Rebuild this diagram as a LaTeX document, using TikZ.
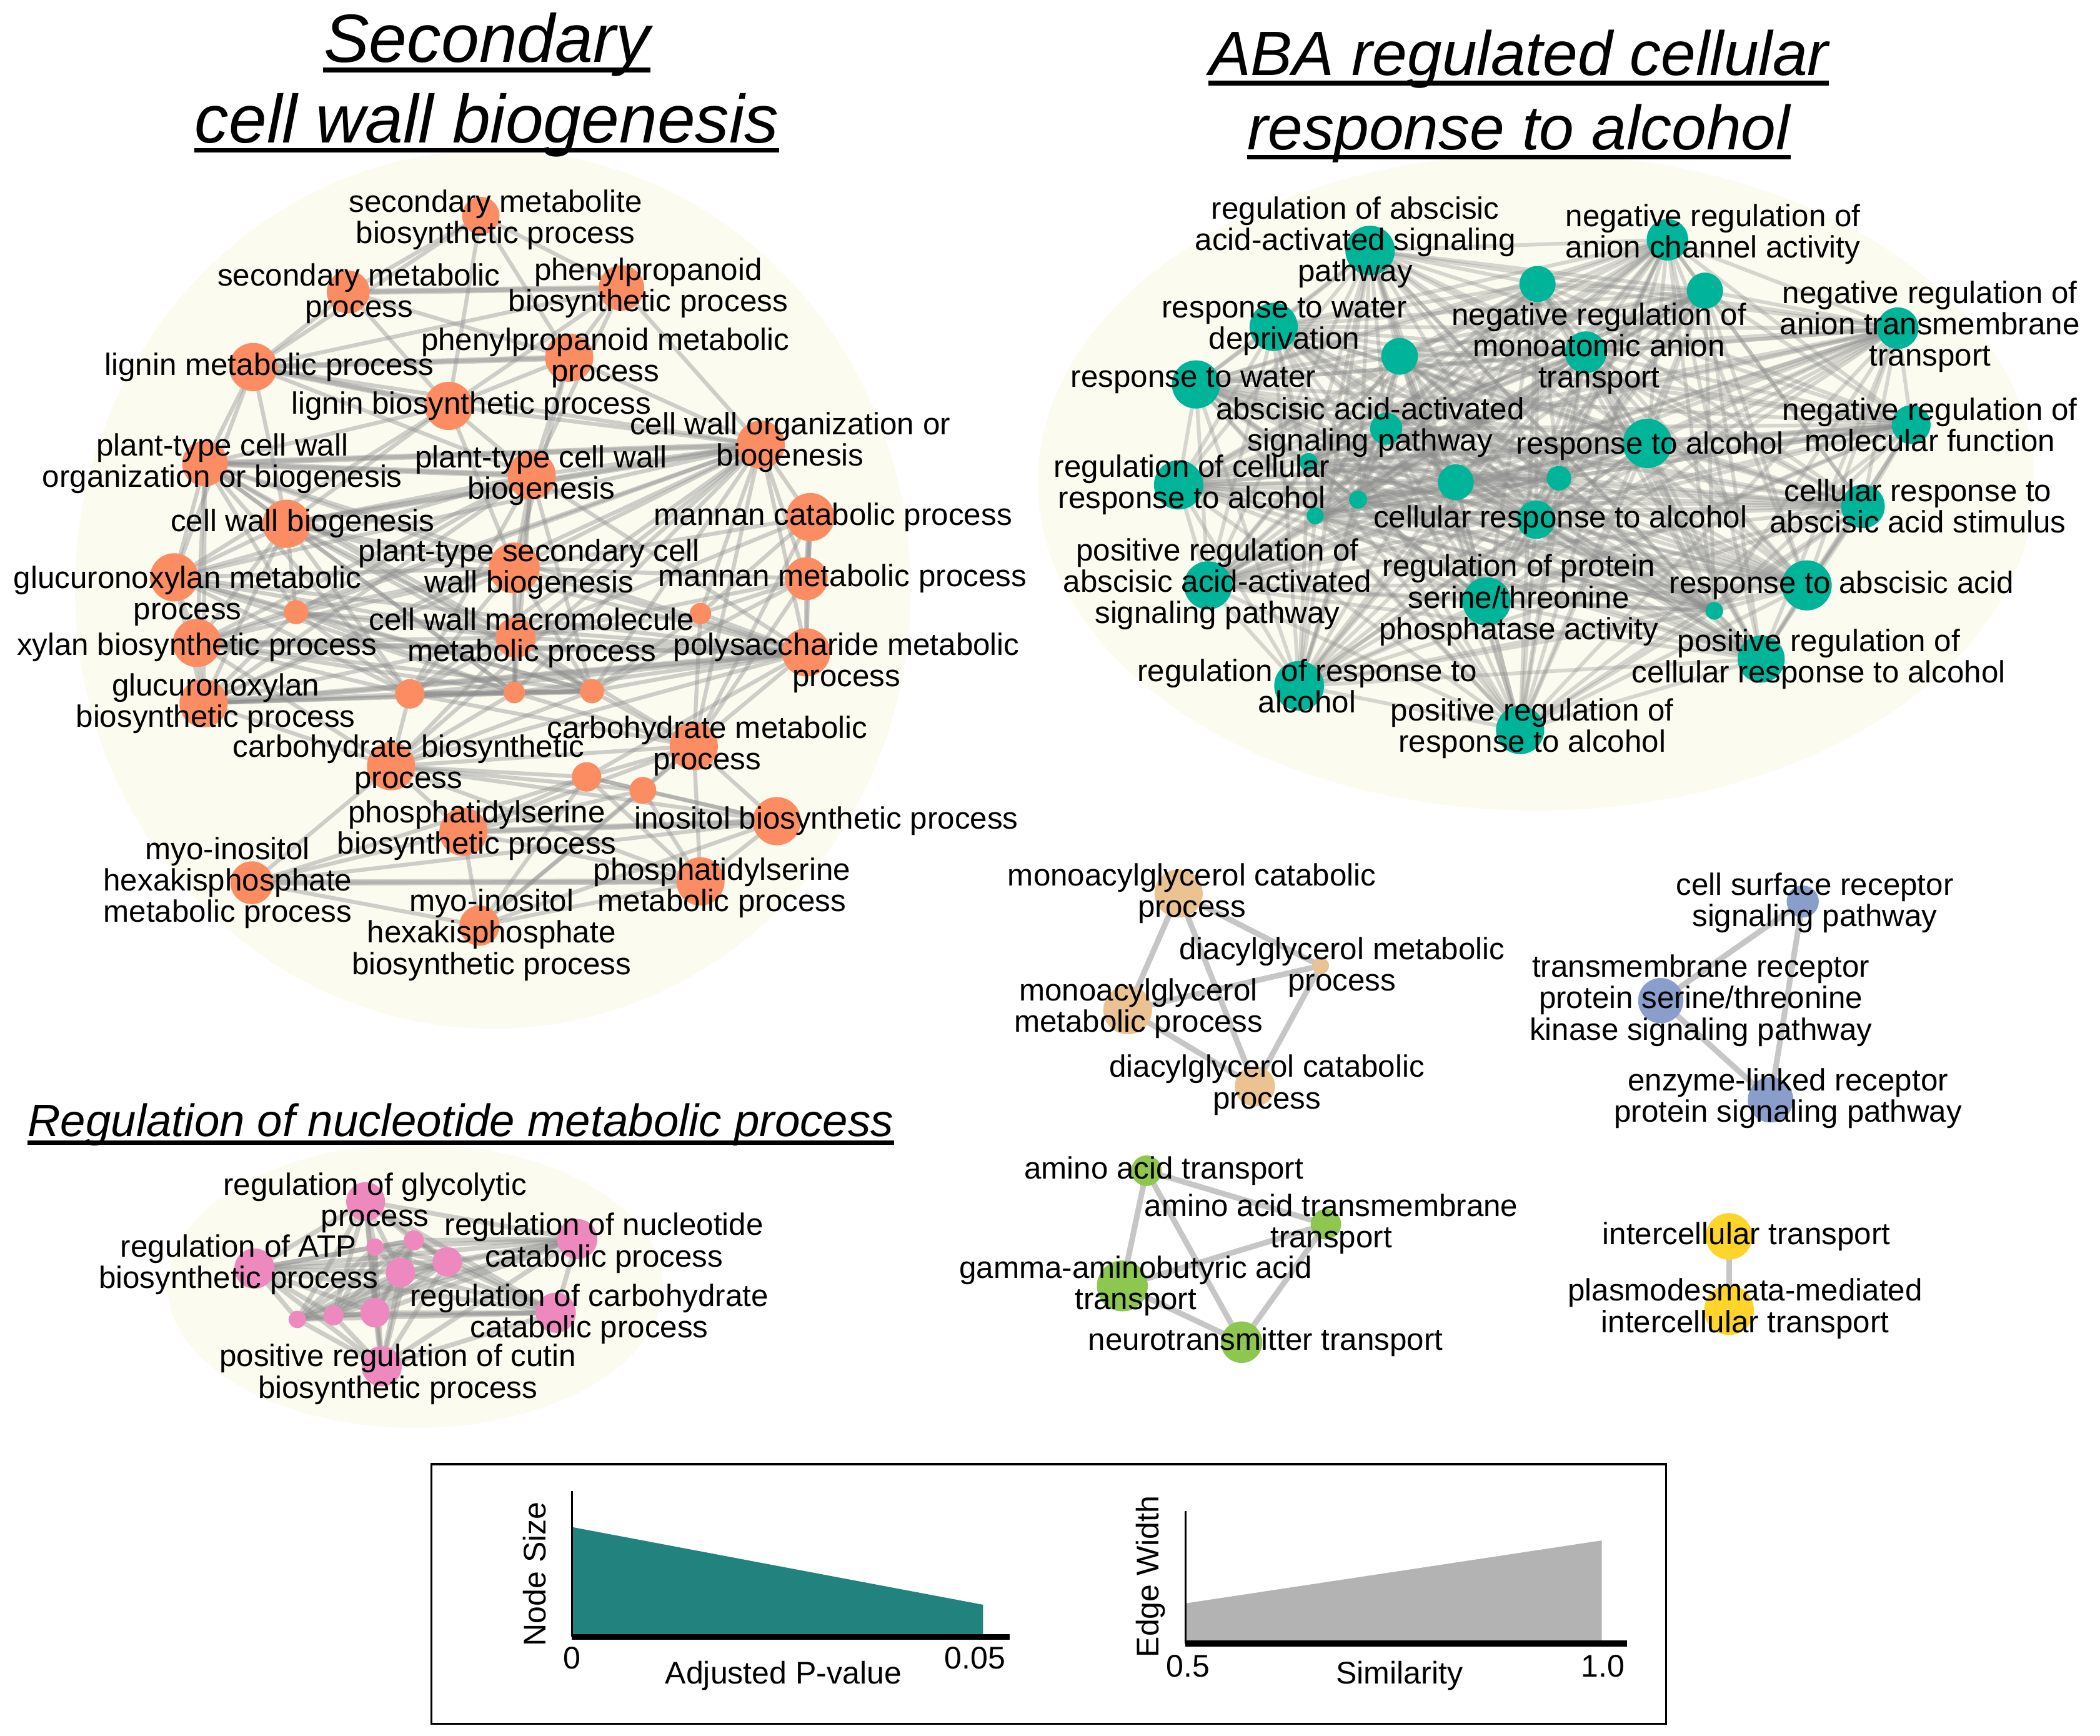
\documentclass[tikz,border=0pt]{standalone}
\usepackage{fontspec}
\setmainfont{Liberation Sans}
\usepackage{xcolor}

\definecolor{cwall}{HTML}{FC8D62}
\definecolor{abac}{RGB}{0,180,154}
\definecolor{nucc}{HTML}{ED89BF}
\definecolor{lipc}{HTML}{EBC393}
\definecolor{aminc}{HTML}{8DC74F}
\definecolor{recc}{HTML}{8A9ECB}
\definecolor{intc}{HTML}{FFD52B}
\definecolor{hullc}{RGB}{251,251,240}
\definecolor{sizec}{RGB}{34,130,126}
\definecolor{widc}{RGB}{179,179,179}

\pgfdeclarelayer{hulls}
\pgfdeclarelayer{links}
\pgfsetlayers{hulls,links,main}

\begin{document}
\begin{tikzpicture}[x=0.02cm, y=-0.02cm,
	term/.style={circle, inner sep=0pt, minimum size=#1*0.04cm},
	lbl/.style={font=\fontsize{13.1}{13.3}\selectfont, align=center, inner sep=0pt},
	link/.style={draw=black!45, line width=1.7pt, opacity=0.4, line cap=round},
	linkw/.style={draw=black!50, line width=2.4pt, opacity=0.45, line cap=round},
	hull/.style={fill=hullc},
	ttlA/.style={font=\fontsize{29}{33}\selectfont\itshape, inner sep=0pt, anchor=base},
	ttlB/.style={font=\fontsize{26.6}{30}\selectfont\itshape, inner sep=0pt, anchor=base},
	ttlC/.style={font=\fontsize{19.3}{22}\selectfont\itshape, inner sep=0pt, anchor=base},
	uline/.style={line width=2pt},
	legt/.style={font=\fontsize{13.3}{14}\selectfont, inner sep=0pt},
	axthin/.style={line width=0.8pt},
	axthick/.style={line width=2.6pt}]
	\useasboundingbox (0,0) rectangle (1568,1296);

	% background hulls
	\begin{pgfonlayer}{hulls}
		\fill[hull] (368,440) ellipse [x radius=312, y radius=328];
		\fill[hull] (1147,360) ellipse [x radius=372, y radius=245];
		\fill[hull] (310,960) ellipse [x radius=185, y radius=106];
	\end{pgfonlayer}

	% titles
	\node[ttlA] (secA) at (363.5,46.4) {Secondary};
	\node[ttlA] (secB) at (363.5,106.4) {cell wall biogenesis};
	\node[ttlB] (abaA) at (1134,56.4) {ABA regulated cellular};
	\node[ttlB] (abaB) at (1134,111.6) {response to alcohol};
	\node[ttlC] (nucA) at (344,848.5) {Regulation of nucleotide metabolic process};
	\draw[uline] ([yshift=-3.3pt]secA.base west) -- ([yshift=-3.3pt]secA.base east);
	\draw[uline] ([yshift=-3.3pt]secB.base west) -- ([yshift=-3.3pt]secB.base east);
	\draw[uline] ([yshift=-3.2pt]abaA.base west) -- ([yshift=-3.2pt]abaA.base east);
	\draw[uline] ([yshift=-3.2pt]abaB.base west) -- ([yshift=-3.2pt]abaB.base east);
	\draw[uline, line width=1.7pt] ([yshift=-2.6pt]nucA.base west) -- ([yshift=-2.6pt]nucA.base east);

	% secondary cell wall cluster
	\node[term=14, fill=cwall] (smb) at (359,161) {};
	\node[term=16, fill=cwall] (smp) at (260,218) {};
	\node[term=17, fill=cwall] (ppb) at (464,215) {};
	\node[term=18, fill=cwall] (ppm) at (425,267) {};
	\node[term=18, fill=cwall] (lmp) at (189,274) {};
	\node[term=18, fill=cwall] (lbp) at (335,303) {};
	\node[term=18, fill=cwall] (cwo) at (568,332) {};
	\node[term=17, fill=cwall] (ptcw) at (153,346) {};
	\node[term=18, fill=cwall] (ptb) at (397,355) {};
	\node[term=18, fill=cwall] (cwb) at (214,391) {};
	\node[term=18, fill=cwall] (mcp) at (605,386) {};
	\node[term=19, fill=cwall] (pscw) at (384,424) {};
	\node[term=16, fill=cwall] (mmp) at (602,432) {};
	\node[term=18, fill=cwall] (gxm) at (130,431) {};
	\node[term=9, fill=cwall] (sa) at (221,457) {};
	\node[term=8, fill=cwall] (sb) at (523,458) {};
	\node[term=15, fill=cwall] (cwm) at (385,476) {};
	\node[term=18, fill=cwall] (xbp) at (147,480) {};
	\node[term=18, fill=cwall] (psm) at (602,487) {};
	\node[term=18, fill=cwall] (gxb) at (152,525) {};
	\node[term=11, fill=cwall] (sc) at (306,518) {};
	\node[term=8, fill=cwall] (sd) at (384,517) {};
	\node[term=9, fill=cwall] (se) at (442,516) {};
	\node[term=18, fill=cwall] (chm) at (518,557) {};
	\node[term=18, fill=cwall] (chb) at (292,572) {};
	\node[term=11, fill=cwall] (sf) at (438,580) {};
	\node[term=10, fill=cwall] (sg) at (480,590) {};
	\node[term=18, fill=cwall] (ibp) at (580,613) {};
	\node[term=18, fill=cwall] (psb) at (346,621) {};
	\node[term=16, fill=cwall] (mhm) at (188,659) {};
	\node[term=18, fill=cwall] (psmb) at (523,658) {};
	\node[term=15, fill=cwall] (mhb) at (358,691) {};

	\node[lbl] (smb-t) at (370,164) {secondary metabolite\\biosynthetic process};
	\node[lbl] (smp-t) at (268,219) {secondary metabolic\\process};
	\node[lbl] (ppb-t) at (484,215) {phenylpropanoid\\biosynthetic process};
	\node[lbl] (ppm-t) at (452,267) {phenylpropanoid metabolic\\process};
	\node[lbl] (lmp-t) at (201,274) {lignin metabolic process};
	\node[lbl] (lbp-t) at (352,303) {lignin biosynthetic process};
	\node[lbl] (cwo-t) at (590,330) {cell wall organization or\\biogenesis};
	\node[lbl] (ptcw-t) at (166,346) {plant-type cell wall\\organization or biogenesis};
	\node[lbl] (ptb-t) at (404,355) {plant-type cell wall\\biogenesis};
	\node[lbl] (cwb-t) at (226,391) {cell wall biogenesis};
	\node[lbl] (mcp-t) at (622,386) {mannan catabolic process};
	\node[lbl] (pscw-t) at (395,425) {plant-type secondary cell\\wall biogenesis};
	\node[lbl] (mmp-t) at (629,432) {mannan metabolic process};
	\node[lbl] (gxm-t) at (140,445) {glucuronoxylan metabolic\\process};
	\node[lbl] (cwm-t) at (397,476) {cell wall macromolecule\\metabolic process};
	\node[lbl] (xbp-t) at (147,483) {xylan biosynthetic process};
	\node[lbl] (psm-t) at (632,495) {polysaccharide metabolic\\process};
	\node[lbl] (gxb-t) at (161,525) {glucuronoxylan\\biosynthetic process};
	\node[lbl] (chm-t) at (528,557) {carbohydrate metabolic\\process};
	\node[lbl] (chb-t) at (305,571) {carbohydrate biosynthetic\\process};
	\node[lbl] (ibp-t) at (617,613) {inositol biosynthetic process};
	\node[lbl] (psb-t) at (356,620) {phosphatidylserine\\biosynthetic process};
	\node[lbl] (mhm-t) at (170,659) {myo-inositol\\hexakisphosphate\\metabolic process};
	\node[lbl] (psmb-t) at (539,663) {phosphatidylserine\\metabolic process};
	\node[lbl] (mhb-t) at (367,698) {myo-inositol\\hexakisphosphate\\biosynthetic process};

	% ABA cluster
	\node[term=18.5, fill=abac] (ra) at (1023,187) {};
	\node[term=13.5, fill=abac] (a1) at (1148,212) {};
	\node[term=15.5, fill=abac] (nrac) at (1245,179) {};
	\node[term=13.5, fill=abac] (a2) at (1273,217) {};
	\node[term=15.5, fill=abac] (nrat) at (1417,245) {};
	\node[term=18, fill=abac] (rwd) at (951,244) {};
	\node[term=13.7, fill=abac] (a3) at (1045,266) {};
	\node[term=15.6, fill=abac] (nmat) at (1184,263) {};
	\node[term=18, fill=abac] (rw) at (893,287) {};
	\node[term=12, fill=abac] (aasp) at (1035,320) {};
	\node[term=18.4, fill=abac] (rta) at (1230,331) {};
	\node[term=14.5, fill=abac] (nrmf) at (1427,317) {};
	\node[term=6.8, fill=abac] (a4) at (977,345) {};
	\node[term=18.4, fill=abac] (rcra) at (880,362) {};
	\node[term=13.4, fill=abac] (a5) at (1087,360) {};
	\node[term=9.2, fill=abac] (a6) at (1164,357) {};
	\node[term=6.7, fill=abac] (a7) at (1014,373) {};
	\node[term=6.4, fill=abac] (a8) at (982,385) {};
	\node[term=14.3, fill=abac] (cra) at (1147,388) {};
	\node[term=16.3, fill=abac] (crab) at (1391,378) {};
	\node[term=18, fill=abac] (prab) at (902,437) {};
	\node[term=18, fill=abac] (rpsp) at (1110,449) {};
	\node[term=18.7, fill=abac] (rtaa) at (1349,437) {};
	\node[term=6.6, fill=abac] (a9) at (1280,456) {};
	\node[term=17.6, fill=abac] (prcr) at (1315,492) {};
	\node[term=18.6, fill=abac] (rrta) at (970,512) {};
	\node[term=18, fill=abac] (prra) at (1135,545) {};

	\node[lbl] (ra-t) at (1012,181) {regulation of abscisic\\acid-activated signaling\\pathway};
	\node[lbl] (nrac-t) at (1279,175) {negative regulation of\\anion channel activity};
	\node[lbl] (rwd-t) at (959,244) {response to water\\deprivation};
	\node[lbl] (nmat-t) at (1194,260) {negative regulation of\\monoatomic anion\\transport};
	\node[lbl] (nrat-t) at (1441,244) {negative regulation of\\anion transmembrane\\transport};
	\node[lbl] (rw-t) at (891,284) {response to water};
	\node[lbl] (aasp-t) at (1023,319) {abscisic acid-activated\\signaling pathway};
	\node[lbl] (nrmf-t) at (1441,317) {negative regulation of\\molecular function};
	\node[lbl] (rta-t) at (1232,333) {response to alcohol};
	\node[lbl] (rcra-t) at (890,362) {regulation of cellular\\response to alcohol};
	\node[lbl] (cra-t) at (1165,388) {cellular response to alcohol};
	\node[lbl] (crab-t) at (1432,378) {cellular response to\\abscisic acid stimulus};
	\node[lbl] (prab-t) at (909,436) {positive regulation of\\abscisic acid-activated\\signaling pathway};
	\node[lbl] (rpsp-t) at (1134,448) {regulation of protein\\serine/threonine\\phosphatase activity};
	\node[lbl] (rtaa-t) at (1375,437) {response to abscisic acid};
	\node[lbl] (prcr-t) at (1358,492) {positive regulation of\\cellular response to alcohol};
	\node[lbl] (rrta-t) at (976,512) {regulation of response to\\alcohol};
	\node[lbl] (prra-t) at (1144,544) {positive regulation of\\response to alcohol};

	% nucleotide cluster
	\node[term=14.5, fill=nucc] (rgp) at (273,897) {};
	\node[term=15, fill=nucc] (rnc) at (431,925) {};
	\node[term=15, fill=nucc] (ratp) at (190,947) {};
	\node[term=6.5, fill=nucc] (n1) at (280,931) {};
	\node[term=7.5, fill=nucc] (n2) at (309,926) {};
	\node[term=11, fill=nucc] (n3) at (334,942) {};
	\node[term=11, fill=nucc] (n4) at (299,950) {};
	\node[term=15, fill=nucc] (rcc) at (415,980) {};
	\node[term=6.5, fill=nucc] (n5) at (222,985) {};
	\node[term=7.5, fill=nucc] (n6) at (249,982) {};
	\node[term=11, fill=nucc] (n7) at (280,980) {};
	\node[term=15, fill=nucc] (prc) at (285,1020) {};

	\node[lbl] (rgp-t) at (280,898) {regulation of glycolytic\\process};
	\node[lbl] (rnc-t) at (451,928) {regulation of nucleotide\\catabolic process};
	\node[lbl] (ratp-t) at (178,944) {regulation of ATP\\biosynthetic process};
	\node[lbl] (rcc-t) at (440,981) {regulation of carbohydrate\\catabolic process};
	\node[lbl] (prc-t) at (297,1026) {positive regulation of cutin\\biosynthetic process};

	% small clusters
	\node[term=18, fill=lipc] (mcat) at (880,667) {};
	\node[term=6.3, fill=lipc] (dgm) at (986,721) {};
	\node[term=18.2, fill=lipc] (mmet) at (842,754) {};
	\node[term=15, fill=lipc] (dgc) at (937,811) {};
	\node[lbl] (mcat-t) at (890,667) {monoacylglycerol catabolic\\process};
	\node[lbl] (dgm-t) at (1002,722) {diacylglycerol metabolic\\process};
	\node[lbl] (mmet-t) at (850,753) {monoacylglycerol\\metabolic process};
	\node[lbl] (dgc-t) at (946,810) {diacylglycerol catabolic\\process};

	\node[term=11.4, fill=aminc] (aat) at (856,874) {};
	\node[term=11.4, fill=aminc] (aatm) at (990,914) {};
	\node[term=19, fill=aminc] (gaba) at (838,960) {};
	\node[term=15.5, fill=aminc] (nt) at (927,1002) {};
	\node[lbl] (aat-t) at (869,874) {amino acid transport};
	\node[lbl] (aatm-t) at (994,914) {amino acid transmembrane\\transport};
	\node[lbl] (gaba-t) at (848,960) {gamma-aminobutyric acid\\transport};
	\node[lbl] (nt-t) at (945,1002) {neurotransmitter transport};

	\node[term=12, fill=recc] (csr) at (1346,673) {};
	\node[term=16.9, fill=recc] (tmr) at (1240,747) {};
	\node[term=17, fill=recc] (elr) at (1322,821) {};
	\node[lbl] (csr-t) at (1355,674) {cell surface receptor\\signaling pathway};
	\node[lbl] (tmr-t) at (1270,747) {transmembrane receptor\\protein serine/threonine\\kinase signaling pathway};
	\node[lbl] (elr-t) at (1335,820) {enzyme-linked receptor\\protein signaling pathway};

	\node[term=17.4, fill=intc] (ict) at (1291,923) {};
	\node[term=18.6, fill=intc] (pmit) at (1291,978) {};
	\node[lbl] (ict-t) at (1304,923) {intercellular transport};
	\node[lbl] (pmit-t) at (1303,977) {plasmodesmata-mediated\\intercellular transport};

	% similarity links
	\begin{pgfonlayer}{links}
		\foreach \a/\bs in {smb/{smp,ppb,ppm,lmp,lbp}, smp/{ppb,ppm,lmp,lbp},
			ppb/{ppm,lmp,lbp,ptb,cwo}, ppm/{lmp,lbp,ptb,cwo,pscw},
			lmp/{lbp,ptcw,ptb,cwb,cwo,gxm}, lbp/{ptcw,ptb,cwb,cwo,pscw,gxm},
			cwo/{ptcw,ptb,cwb,pscw,mcp,mmp,gxm,xbp,gxb,cwm,psm,sa,sb,sc,sd,se,chm,chb},
			ptcw/{ptb,cwb,pscw,gxm,xbp,gxb,cwm,sa,sc,sd,se,psm},
			ptb/{cwb,pscw,gxm,xbp,gxb,cwm,sa,sc,sd,se,psm},
			cwb/{pscw,gxm,xbp,gxb,cwm,sa,sc,sd,se,psm},
			pscw/{gxm,xbp,gxb,cwm,sa,sc,sd,se,psm,mmp,mcp},
			gxm/{xbp,gxb,cwm,sa,sc,sd,se,psm}, xbp/{gxb,cwm,sa,sc,sd,se,psm,chb},
			gxb/{cwm,sa,sc,sd,se,psm,chb}, cwm/{sa,sc,sd,se,psm,sb,mmp,mcp,chm,chb},
			sa/{sc,sd,se,psm}, sc/{sd,se,psm,chb,chm}, sd/{se,psm,chb,chm},
			se/{psm,sb,chm,chb}, mcp/{mmp,psm,sb,chm}, mmp/{psm,sb,chm,se},
			sb/{psm,chm}, psm/{chm,chb,sf}, chm/{chb,sf,sg,ibp,psb,psmb,mhb},
			chb/{sf,sg,ibp,psb,psmb,mhm}, sf/{sg,ibp,psb,psmb,mhm,mhb},
			sg/{ibp,psb,psmb,mhb}, ibp/{psb,psmb,mhm,mhb}, psb/{psmb,mhm,mhb},
			mhm/{psmb,mhb}, psmb/{mhb}}
			{\foreach \b in \bs {\draw[link] (\a) -- (\b);}}
		\foreach \a/\b in {lmp/ppm, lmp/lbp, smp/ppb, ptcw/ptb, ptcw/cwo, mcp/mmp,
			ibp/psb, mhm/psmb, gxb/psm, sc/sd, sd/se, xbp/psm, cwo/cwb}
			\draw[link, line width=2.6pt] (\a) -- (\b);

		\def\abalist{ra,a1,nrac,a2,nrat,rwd,a3,nmat,rw,aasp,rta,nrmf,a4,rcra,a5,a6,a7,a8,cra,crab,prab,rpsp,rtaa,a9,prcr,rrta,prra}
		\foreach \a [count=\i] in \abalist {
			\foreach \b [count=\j] in \abalist {
				\ifnum\j>\i\relax \draw[link, line width=1.6pt, opacity=0.33] (\a) -- (\b); \fi
			}
		}

		\def\nuclist{rgp,rnc,ratp,n1,n2,n3,n4,rcc,n5,n6,n7,prc}
		\foreach \a [count=\i] in \nuclist {
			\foreach \b [count=\j] in \nuclist {
				\ifnum\j>\i\relax \draw[link, line width=2pt, opacity=0.4] (\a) -- (\b); \fi
			}
		}

		\foreach \a/\b in {mcat/mmet, mcat/dgm, mcat/dgc, mmet/dgm, mmet/dgc, dgm/dgc,
			aat/aatm, aat/gaba, aat/nt, aatm/gaba, aatm/nt, gaba/nt,
			csr/tmr, csr/elr, tmr/elr, ict/pmit}
			\draw[linkw] (\a) -- (\b);
	\end{pgfonlayer}

	% legend
	\draw[line width=0.9pt] (322,1093) rectangle (1244,1287);
	\fill[sizec] (427,1140) -- (734,1198) -- (734,1222) -- (427,1222) -- cycle;
	\draw[axthin] (427,1113) -- (427,1222);
	\draw[axthick] (427,1222) -- (754,1222);
	\node[legt] (pzero) at (427,1238) {0};
	\node[legt] (pmax) at (728,1238) {0.05};
	\node[legt] (pval) at (585,1251) {Adjusted P-value};
	\node[legt, rotate=90] (nsize) at (399,1175) {Node Size};

	\fill[widc] (885,1197) -- (1196,1150) -- (1196,1227) -- (885,1227) -- cycle;
	\draw[axthin] (885,1128) -- (885,1227);
	\draw[axthick] (885,1227) -- (1215,1227);
	\node[legt] (slow) at (887,1244) {0.5};
	\node[legt] (shigh) at (1197,1244) {1.0};
	\node[legt] (simil) at (1045,1251) {Similarity};
	\node[legt, rotate=90] (ewidth) at (859,1177) {Edge Width};
\end{tikzpicture}
\end{document}
